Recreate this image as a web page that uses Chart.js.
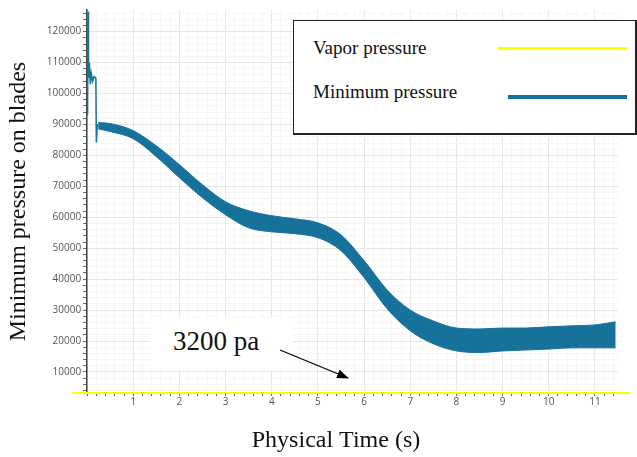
<!DOCTYPE html>
<html>
<head>
<meta charset="utf-8">
<script src="https://cdn.jsdelivr.net/npm/chart.js@4.4.1/dist/chart.umd.min.js"></script>
<style>
  html, body { margin: 0; padding: 0; background: #fff; }
  .wrap { position: relative; width: 637px; height: 457px; }
  canvas { position: absolute; left: 0; top: 0; }
  .legend-box {
    position: absolute; left: 293px; top: 20px; width: 341px; height: 112px;
    background: #fff; border: 1px solid #222; border-right-width: 2px; border-bottom-width: 2px;
    font-family: "Liberation Serif", "Times New Roman", serif; font-size: 19px; color: #111;
  }
  .legend-box .row { position: absolute; left: 19px; }
  .legend-box .swatch { position: absolute; height: 3px; }
  .note {
    position: absolute; left: 150px; top: 318px; width: 142px; height: 52px; background: #fff;
    font-family: "Liberation Serif", "Times New Roman", serif; font-size: 27px; color: #111;
  }
  .note span { position: absolute; left: 23px; top: 8px; }
  svg.arrow { position: absolute; left: 0; top: 0; }
</style>
</head>
<body>
<div class="wrap">
  <canvas id="chart" width="637" height="457"></canvas>
  <div class="note"><span>3200 pa</span></div>
  <svg class="arrow" width="637" height="457">
    <defs>
      <marker id="head" markerWidth="12" markerHeight="9" refX="11" refY="4.5" orient="auto" markerUnits="userSpaceOnUse">
        <polygon points="0,0 12,4.5 0,9" fill="#000"></polygon>
      </marker>
    </defs>
    <line x1="280" y1="350" x2="348" y2="378" stroke="#000" stroke-width="1.3" marker-end="url(#head)"></line>
  </svg>
  <div class="legend-box">
    <div class="row" style="top:16px">Vapor pressure</div>
    <div class="swatch" style="left:204px; top:26px; width:129px; background:#ffff00"></div>
    <div class="row" style="top:60px">Minimum pressure</div>
    <div class="swatch" style="left:214px; top:74px; width:119px; height:4px; background:#16729a"></div>
  </div>
</div>
<script>
// band of the minimum pressure (upper / lower edge)
const timeS = [0.24, 0.5, 1, 1.5, 2, 2.5, 3, 3.5, 4, 4.5, 5, 5.5, 6, 6.5, 7, 7.5, 8, 8.5, 9, 9.5, 10, 10.5, 11, 11.45];
const minUpper = [90600, 90300, 88000, 83100, 77000, 70500, 65000, 62100, 60500, 59500, 58200, 54300, 46000, 36500, 30000, 26500, 24200, 23900, 24200, 24200, 24600, 24900, 25200, 26200];
const minLower = [88600, 87700, 85400, 79600, 72800, 66300, 60800, 56600, 55300, 54700, 53400, 49200, 40500, 30400, 23300, 19100, 16800, 16300, 16800, 17100, 17400, 17800, 17800, 17800];

// start-up transient
const transT = [0.01, 0.02, 0.03, 0.05, 0.07, 0.09, 0.12, 0.15, 0.19, 0.2, 0.22, 0.24];
const transP = [93000, 126500, 105000, 110000, 103000, 106500, 104000, 105500, 105000, 84200, 89800, 90000];

const vaporT = [-0.33, 11.75];
const vaporP = [3200, 3200];

const yMajor = [10000, 20000, 30000, 40000, 50000, 60000, 70000, 80000, 90000, 100000, 110000, 120000];

const blue = '#16729a';
const pts = (xs, ys) => xs.map((x, i) => ({ x: x, y: ys[i] }));
const isInt = v => Math.abs(v - Math.round(v)) < 1e-6;

const xTitle = {
  id: 'xTitle',
  afterDraw(chart) {
    const c = chart.ctx;
    c.save();
    c.font = '24px "Liberation Serif"';
    c.fillStyle = '#111';
    c.textAlign = 'center';
    c.textBaseline = 'middle';
    c.fillText('Physical Time (s)', 336, 441);
    c.restore();
  }
};

new Chart(document.getElementById('chart'), {
  type: 'line',
  data: {
    datasets: [
      { label: 'upper', data: pts(timeS, minUpper), borderColor: blue, backgroundColor: blue,
        borderWidth: 1, pointRadius: 0, fill: '+1', cubicInterpolationMode: 'monotone', order: 2 },
      { label: 'Minimum pressure', data: pts(timeS, minLower), borderColor: blue, backgroundColor: blue,
        borderWidth: 1, pointRadius: 0, fill: false, cubicInterpolationMode: 'monotone', order: 2 },
      { label: 'transient', data: pts(transT, transP), borderColor: blue, borderWidth: 1.5,
        pointRadius: 0, fill: false, tension: 0, order: 2 },
      { label: 'Vapor pressure', data: pts(vaporT, vaporP), borderColor: '#ffff00', borderWidth: 2,
        pointRadius: 0, fill: false, clip: false, order: 1 }
    ]
  },
  options: {
    responsive: false,
    animation: false,
    layout: { padding: { left: 4, right: 19, top: 10, bottom: 49 } },
    plugins: { legend: { display: false }, tooltip: { enabled: false } },
    scales: {
      x: {
        type: 'linear', min: 0, max: 11.5,
        afterBuildTicks: s => {
          const t = [];
          for (let i = 0; i <= 57; i++) t.push({ value: +(i * 0.2).toFixed(1) });
          s.ticks = t;
        },
        ticks: {
          autoSkip: false, maxRotation: 0, padding: 0,
          font: { family: 'Open Sans', size: 10 }, color: '#555',
          callback: v => (isInt(v) && v > 0 ? String(Math.round(v)) : '')
        },
        grid: {
          color: c => (isInt(c.tick.value) ? '#e6e6e6' : '#f6f6f6'),
          tickLength: 3, tickColor: '#666'
        },
        border: { color: '#444', width: 1.5 }
      },
      y: {
        type: 'linear', min: 3200, max: 127000,
        afterBuildTicks: s => {
          const t = [];
          for (let v = 4000; v <= 126000; v += 2000) t.push({ value: v });
          s.ticks = t;
        },
        ticks: {
          autoSkip: false, padding: 2,
          font: { family: 'Open Sans', size: 10 }, color: '#555',
          callback: v => (yMajor.includes(v) ? String(v) : '')
        },
        grid: {
          color: c => (c.tick && c.tick.value % 10000 === 0 ? '#e6e6e6' : '#f6f6f6'),
          tickLength: 4, tickColor: '#666'
        },
        border: { color: '#444', width: 1.5 },
        title: {
          display: true, text: 'Minimum pressure on blades', color: '#111',
          font: { family: 'Liberation Serif', size: 24 }, padding: { top: 0, bottom: 12 }
        }
      }
    }
  },
  plugins: [xTitle]
});
</script>
</body>
</html>
